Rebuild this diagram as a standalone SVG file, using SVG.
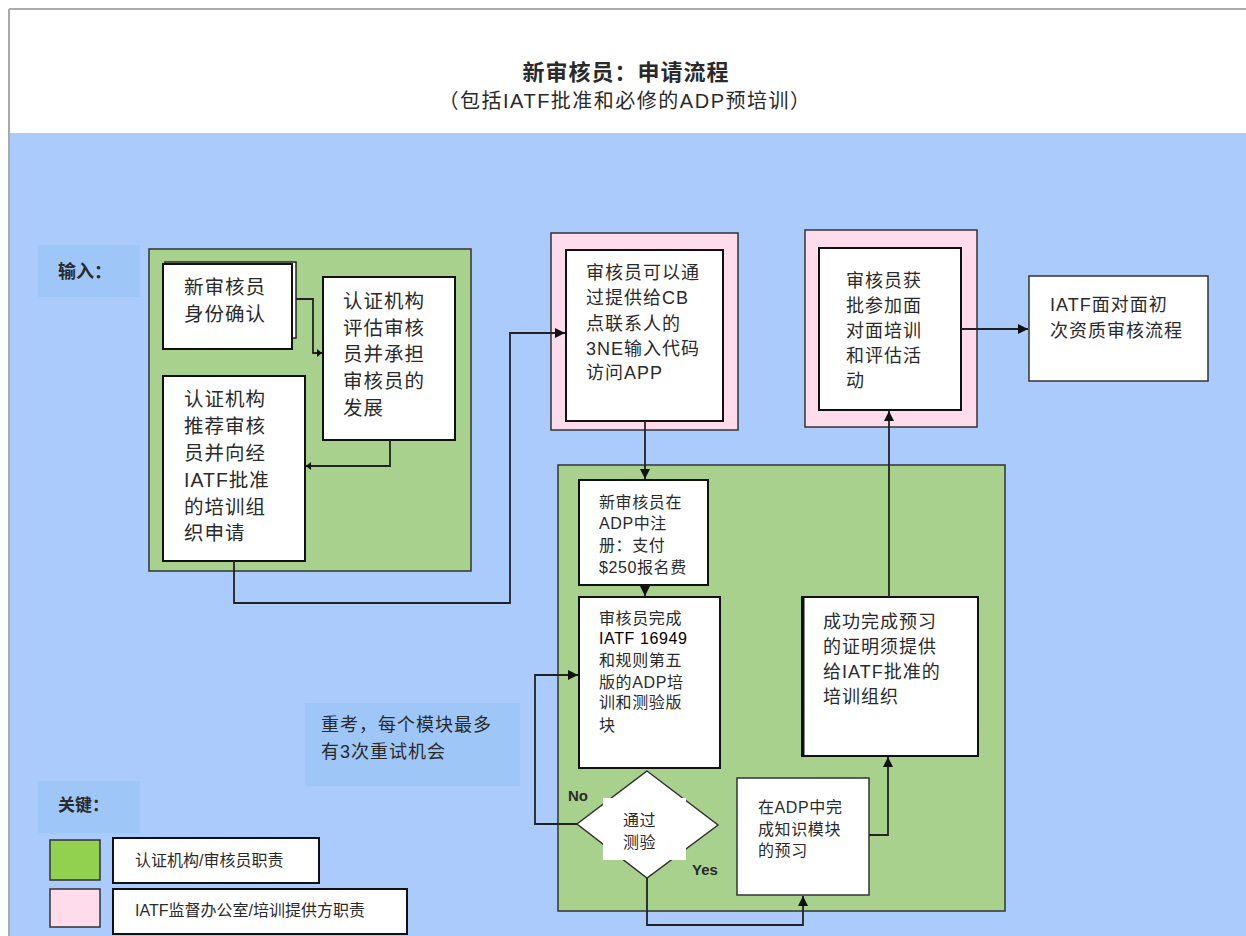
<svg xmlns="http://www.w3.org/2000/svg" width="1246" height="936" viewBox="0 0 1246 936">
<style>
.t{font-family:"Liberation Sans","Noto Sans CJK SC",sans-serif;fill:#2a2a2a}
.b19{font-size:19.5px;letter-spacing:1px}
.b18{font-size:18px;letter-spacing:1px}
.b16{font-size:16px;letter-spacing:0.6px}
.box{fill:#fff;stroke:#111;stroke-width:2}
.grn{fill:#A9D18E;stroke:#333;stroke-width:1.5}
.pnk{fill:#FFDCEC;stroke:#333;stroke-width:1.5}
.lbl{fill:#9EC6F7}
.con{fill:none;stroke:#222;stroke-width:1.8}
</style>
<defs>
<marker id="ar" markerUnits="userSpaceOnUse" markerWidth="12" markerHeight="12" refX="10" refY="5" orient="auto">
<path d="M0,0 L10,5 L0,10 Z" fill="#111"/>
</marker>
<marker id="sm" markerUnits="userSpaceOnUse" markerWidth="8" markerHeight="8" refX="5" refY="4" orient="auto">
<path d="M0,0 L5,4 L0,8 Z" fill="#111"/>
</marker>
</defs>
<rect x="0" y="0" width="1246" height="936" fill="#fff"/>
<line x1="9" y1="9" x2="1246" y2="9" stroke="#aaa" stroke-width="2"/>
<line x1="9" y1="9" x2="9" y2="936" stroke="#aaa" stroke-width="2"/>
<rect x="10" y="133" width="1236" height="803" fill="#AACBFC"/>
<g id="title">
<text class="t" x="626" y="80" text-anchor="middle" font-size="22" font-weight="bold" letter-spacing="1" fill="#111">新审核员：申请流程</text>
<text class="t" x="625" y="108" text-anchor="middle" font-size="20" letter-spacing="1.5">（包括IATF批准和必修的ADP预培训）</text>
</g>
<g id="input-label">
<rect class="lbl" x="38" y="245" width="102" height="52"/>
<text class="t" x="58" y="278" font-size="18" font-weight="bold" fill="#111">输入：</text>
</g>
<g id="cb-group">
<rect class="grn" x="149" y="249" width="322" height="322"/>
</g>
<g id="n1">
<rect x="165" y="262" width="131" height="76" fill="#fff" stroke="#222" stroke-width="1.5"/>
<rect class="box" x="163" y="264" width="129" height="85"/>
<text class="t b19" x="184"><tspan x="184" y="294">新审核员</tspan><tspan x="184" y="321">身份确认</tspan></text>
</g>
<g id="n2">
<rect class="box" x="323" y="277" width="132" height="163"/>
<text class="t b19"><tspan x="343" y="308">认证机构</tspan><tspan x="343" y="335">评估审核</tspan><tspan x="343" y="361">员并承担</tspan><tspan x="343" y="388">审核员的</tspan><tspan x="343" y="415">发展</tspan></text>
</g>
<g id="n3">
<rect class="box" x="163" y="376" width="142" height="185"/>
<text class="t b19"><tspan x="184" y="406">认证机构</tspan><tspan x="184" y="433">推荐审核</tspan><tspan x="184" y="460">员并向经</tspan><tspan x="184" y="487">IATF批准</tspan><tspan x="184" y="514">的培训组</tspan><tspan x="184" y="540">织申请</tspan></text>
</g>
<g id="n4">
<rect class="pnk" x="551" y="233" width="187" height="197"/>
<rect class="box" x="566" y="250" width="157" height="171"/>
<text class="t b18"><tspan x="586" y="279">审核员可以通</tspan><tspan x="586" y="304">过提供给CB</tspan><tspan x="586" y="330">点联系人的</tspan><tspan x="586" y="355">3NE输入代码</tspan><tspan x="586" y="379">访问APP</tspan></text>
</g>
<g id="n5">
<rect class="pnk" x="805" y="230" width="172" height="197"/>
<rect class="box" x="819" y="248" width="142" height="162"/>
<text class="t b18"><tspan x="846" y="287">审核员获</tspan><tspan x="846" y="312">批参加面</tspan><tspan x="846" y="337">对面培训</tspan><tspan x="846" y="362">和评估活</tspan><tspan x="846" y="387">动</tspan></text>
</g>
<g id="n6">
<rect x="1029" y="276" width="179" height="105" fill="#fff" stroke="#333" stroke-width="1.5"/>
<text class="t b18"><tspan x="1050" y="311">IATF面对面初</tspan><tspan x="1050" y="337">次资质审核流程</tspan></text>
</g>
<g id="adp-group">
<rect class="grn" x="558" y="465" width="447" height="446"/>
</g>
<g id="n7">
<rect class="box" x="579" y="480" width="129" height="105"/>
<text class="t b16"><tspan x="599" y="508">新审核员在</tspan><tspan x="599" y="529">ADP中注</tspan><tspan x="599" y="551">册：支付</tspan><tspan x="599" y="573">$250报名费</tspan></text>
</g>
<g id="n8">
<rect class="box" x="579" y="597" width="141" height="171"/>
<text class="t b16"><tspan x="599" y="624">审核员完成</tspan><tspan x="599" y="644" fill="#000">IATF 16949</tspan><tspan x="599" y="666">和规则第五</tspan><tspan x="599" y="688">版的ADP培</tspan><tspan x="599" y="708">训和测验版</tspan><tspan x="599" y="731">块</tspan></text>
</g>
<g id="n9">
<rect class="box" x="802" y="597" width="176" height="159"/>
<line x1="803" y1="597" x2="803" y2="756" stroke="#111" stroke-width="3"/>
<text class="t b18"><tspan x="823" y="628">成功完成预习</tspan><tspan x="823" y="653">的证明须提供</tspan><tspan x="823" y="678">给IATF批准的</tspan><tspan x="823" y="703">培训组织</tspan></text>
</g>
<g id="n10">
<path d="M647,771 L718,825 L647,878 L577,824 Z" fill="#fff" stroke="#333" stroke-width="1.5"/>
<rect x="603" y="798" width="83" height="62" fill="#fff"/>
<text class="t b16"><tspan x="623" y="826">通过</tspan><tspan x="623" y="848">测验</tspan></text>
</g>
<g id="n11">
<rect x="737" y="778" width="132" height="117" fill="#fff" stroke="#333" stroke-width="1.5"/>
<text class="t b16"><tspan x="758" y="813">在ADP中完</tspan><tspan x="758" y="835">成知识模块</tspan><tspan x="758" y="856">的预习</tspan></text>
</g>
<g id="note">
<rect class="lbl" x="305" y="703" width="215" height="83"/>
<text class="t b18"><tspan x="321" y="731">重考，每个模块最多</tspan><tspan x="321" y="758">有3次重试机会</tspan></text>
</g>
<g id="key">
<rect class="lbl" x="38" y="781" width="102" height="52"/>
<text class="t" x="58" y="811" font-size="17" font-weight="bold" fill="#111">关键：</text>
<rect x="50" y="840" width="50" height="40" fill="#92D050" stroke="#333" stroke-width="1.5"/>
<rect x="113" y="838" width="206" height="45" fill="#fff" stroke="#111" stroke-width="2"/>
<text class="t" x="135" y="866" font-size="16">认证机构/审核员职责</text>
<rect x="50" y="889" width="50" height="38" fill="#FFDCEC" stroke="#333" stroke-width="1.5"/>
<rect x="113" y="889" width="294" height="45" fill="#fff" stroke="#111" stroke-width="2"/>
<text class="t" x="135" y="916" font-size="16">IATF监督办公室/培训提供方职责</text>
</g>
<g id="connectors">
<path class="con" d="M296,299 H313 V353 H322" marker-end="url(#sm)"/>
<path class="con" d="M390,440 V466 H306" marker-end="url(#sm)"/>
<path class="con" d="M234,561 V603 H510 V333 H565" marker-end="url(#ar)"/>
<path class="con" d="M645,421 V479" marker-end="url(#ar)"/>
<path class="con" d="M961,329 H1028" marker-end="url(#ar)"/>
<path class="con" d="M645,585 V596" marker-end="url(#ar)"/>
<path class="con" d="M889,597 V411" marker-end="url(#ar)"/>
<path class="con" d="M577,824 H535 V675 H578" marker-end="url(#ar)"/>
<path class="con" d="M647,878 V925 H803 V896" marker-end="url(#ar)"/>
<path class="con" d="M869,835 H888 V757" marker-end="url(#ar)"/>
<text class="t" x="568" y="801" font-size="15" font-weight="bold" fill="#333">No</text>
<text class="t" x="692" y="875" font-size="15" font-weight="bold" fill="#333">Yes</text>
</g>
</svg>
